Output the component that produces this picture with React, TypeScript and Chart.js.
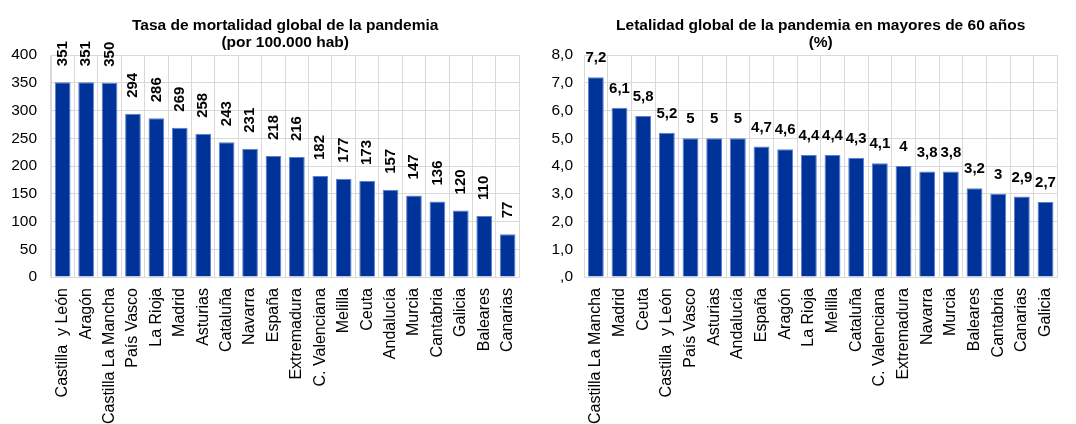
import React, { useEffect, useRef } from 'react';
import { Chart, registerables } from 'chart.js';

Chart.register(...registerables);

const mortalityCategories = [
  'Castilla  y León', 'Aragón', 'Castilla La Mancha', 'País Vasco', 'La Rioja', 'Madrid',
  'Asturias', 'Cataluña', 'Navarra', 'España', 'Extremadura', 'C. Valenciana', 'Melilla',
  'Ceuta', 'Andalucía', 'Murcia', 'Cantabria', 'Galicia', 'Baleares', 'Canarias',
];
const mortalityValues = [351, 351, 350, 294, 286, 269, 258, 243, 231, 218, 216, 182, 177, 173, 157, 147, 136, 120, 110, 77];
const mortalityTitle = ['Tasa de mortalidad global de la pandemia', '(por 100.000 hab)'];

const lethalityCategories = [
  'Castilla La Mancha', 'Madrid', 'Ceuta', 'Castilla  y León', 'País Vasco', 'Asturias',
  'Andalucía', 'España', 'Aragón', 'La Rioja', 'Melilla', 'Cataluña', 'C. Valenciana',
  'Extremadura', 'Navarra', 'Murcia', 'Baleares', 'Cantabria', 'Canarias', 'Galicia',
];
const lethalityValues = [7.2, 6.1, 5.8, 5.2, 5, 5, 5, 4.7, 4.6, 4.4, 4.4, 4.3, 4.1, 4, 3.8, 3.8, 3.2, 3, 2.9, 2.7];
const lethalityTitle = ['Letalidad global de la pandemia en mayores de 60 años', '(%)'];

const FONT = '"Liberation Sans", Arial, sans-serif';
const BAR_FILL = '#003399';
const BAR_EDGE = '#5b7fd0';
const GRID = '#d9d9d9';

type PanelProps = {
  categories: string[];
  values: number[];
  title: string[];
  yMax: number;
  yStep: number;
  tickFormat: (v: number) => string;
  labelFormat: (v: number) => string;
  rotatedLabels: boolean;
  left: number;
  yWidth: number;
  tickPad: number;
  padRight: number;
};

function BarPanel(p: PanelProps) {
  const ref = useRef<HTMLCanvasElement | null>(null);
  useEffect(() => {
    if (!ref.current) return;
    const titlePlugin = {
      id: 'panelTitle',
      afterDraw(chart: any) {
        const { ctx, chartArea } = chart;
        const cx = (chartArea.left + chartArea.right) / 2;
        ctx.save();
        ctx.fillStyle = '#000';
        ctx.font = `bold 15.5px ${FONT}`;
        ctx.textAlign = 'center';
        ctx.textBaseline = 'alphabetic';
        ctx.fillText(p.title[0], cx, 29.5);
        ctx.fillText(p.title[1], cx, 47);
        ctx.restore();
      },
    };
    const labelPlugin = {
      id: 'valueLabels',
      afterDatasetsDraw(chart: any) {
        const { ctx } = chart;
        const meta = chart.getDatasetMeta(0);
        ctx.save();
        ctx.fillStyle = '#000';
        ctx.font = `bold 15px ${FONT}`;
        meta.data.forEach((el: any, i: number) => {
          const txt = p.labelFormat(p.values[i]);
          if (p.rotatedLabels) {
            ctx.save();
            ctx.translate(el.x, el.y - 16);
            ctx.rotate(-Math.PI / 2);
            ctx.textAlign = 'left';
            ctx.textBaseline = 'middle';
            ctx.fillText(txt, 0, 0);
            ctx.restore();
          } else {
            ctx.textAlign = 'center';
            ctx.textBaseline = 'alphabetic';
            ctx.fillText(txt, el.x, el.y - 15);
          }
        });
        ctx.restore();
      },
    };
    const chart = new Chart(ref.current, {
      type: 'bar',
      data: {
        labels: p.categories,
        datasets: [
          {
            data: p.values,
            backgroundColor: BAR_FILL,
            borderColor: BAR_EDGE,
            borderWidth: 1,
            barPercentage: 0.67,
            categoryPercentage: 1,
          },
        ],
      },
      options: {
        responsive: false,
        animation: false,
        events: [],
        layout: { padding: { top: 55, bottom: 0, left: 0, right: p.padRight } },
        plugins: { legend: { display: false }, title: { display: false }, tooltip: { enabled: false } },
        scales: {
          x: {
            grid: { color: GRID, drawTicks: false, offset: true },
            border: { color: GRID },
            ticks: {
              color: '#000',
              font: { family: FONT, size: 16 },
              minRotation: 90,
              maxRotation: 90,
              autoSkip: false,
              padding: 11,
            },
            afterFit: (s: any) => {
              s.height = 147;
            },
          },
          y: {
            min: 0,
            max: p.yMax,
            grid: { color: GRID, drawTicks: false },
            border: { color: GRID },
            ticks: {
              color: '#000',
              font: { family: FONT, size: 15.5 },
              stepSize: p.yStep,
              padding: p.tickPad,
              callback: (v: any) => p.tickFormat(Number(v)),
            },
            afterFit: (s: any) => {
              s.width = p.yWidth;
            },
          },
        },
      },
      plugins: [titlePlugin, labelPlugin],
    } as any);
    return () => chart.destroy();
  }, []);
  return (
    <canvas
      ref={ref}
      width={538}
      height={424}
      style={{ position: 'absolute', left: p.left, top: 0, width: 538, height: 424 }}
    />
  );
}

export default function App() {
  return (
    <div style={{ position: 'fixed', left: 0, top: 0, width: 1076, height: 424, background: '#fff' }}>
      <BarPanel
        categories={mortalityCategories}
        values={mortalityValues}
        title={mortalityTitle}
        yMax={400}
        yStep={50}
        tickFormat={(v) => String(v)}
        labelFormat={(v) => String(v)}
        rotatedLabels={true}
        left={0}
        yWidth={51}
        tickPad={14}
        padRight={7}
      />
      <BarPanel
        categories={lethalityCategories}
        values={lethalityValues}
        title={lethalityTitle}
        yMax={8}
        yStep={1}
        tickFormat={(v) => (v === 0 ? ',0' : v.toFixed(1).replace('.', ','))}
        labelFormat={(v) => String(v).replace('.', ',')}
        rotatedLabels={false}
        left={538}
        yWidth={46}
        tickPad={11}
        padRight={11}
      />
    </div>
  );
}
